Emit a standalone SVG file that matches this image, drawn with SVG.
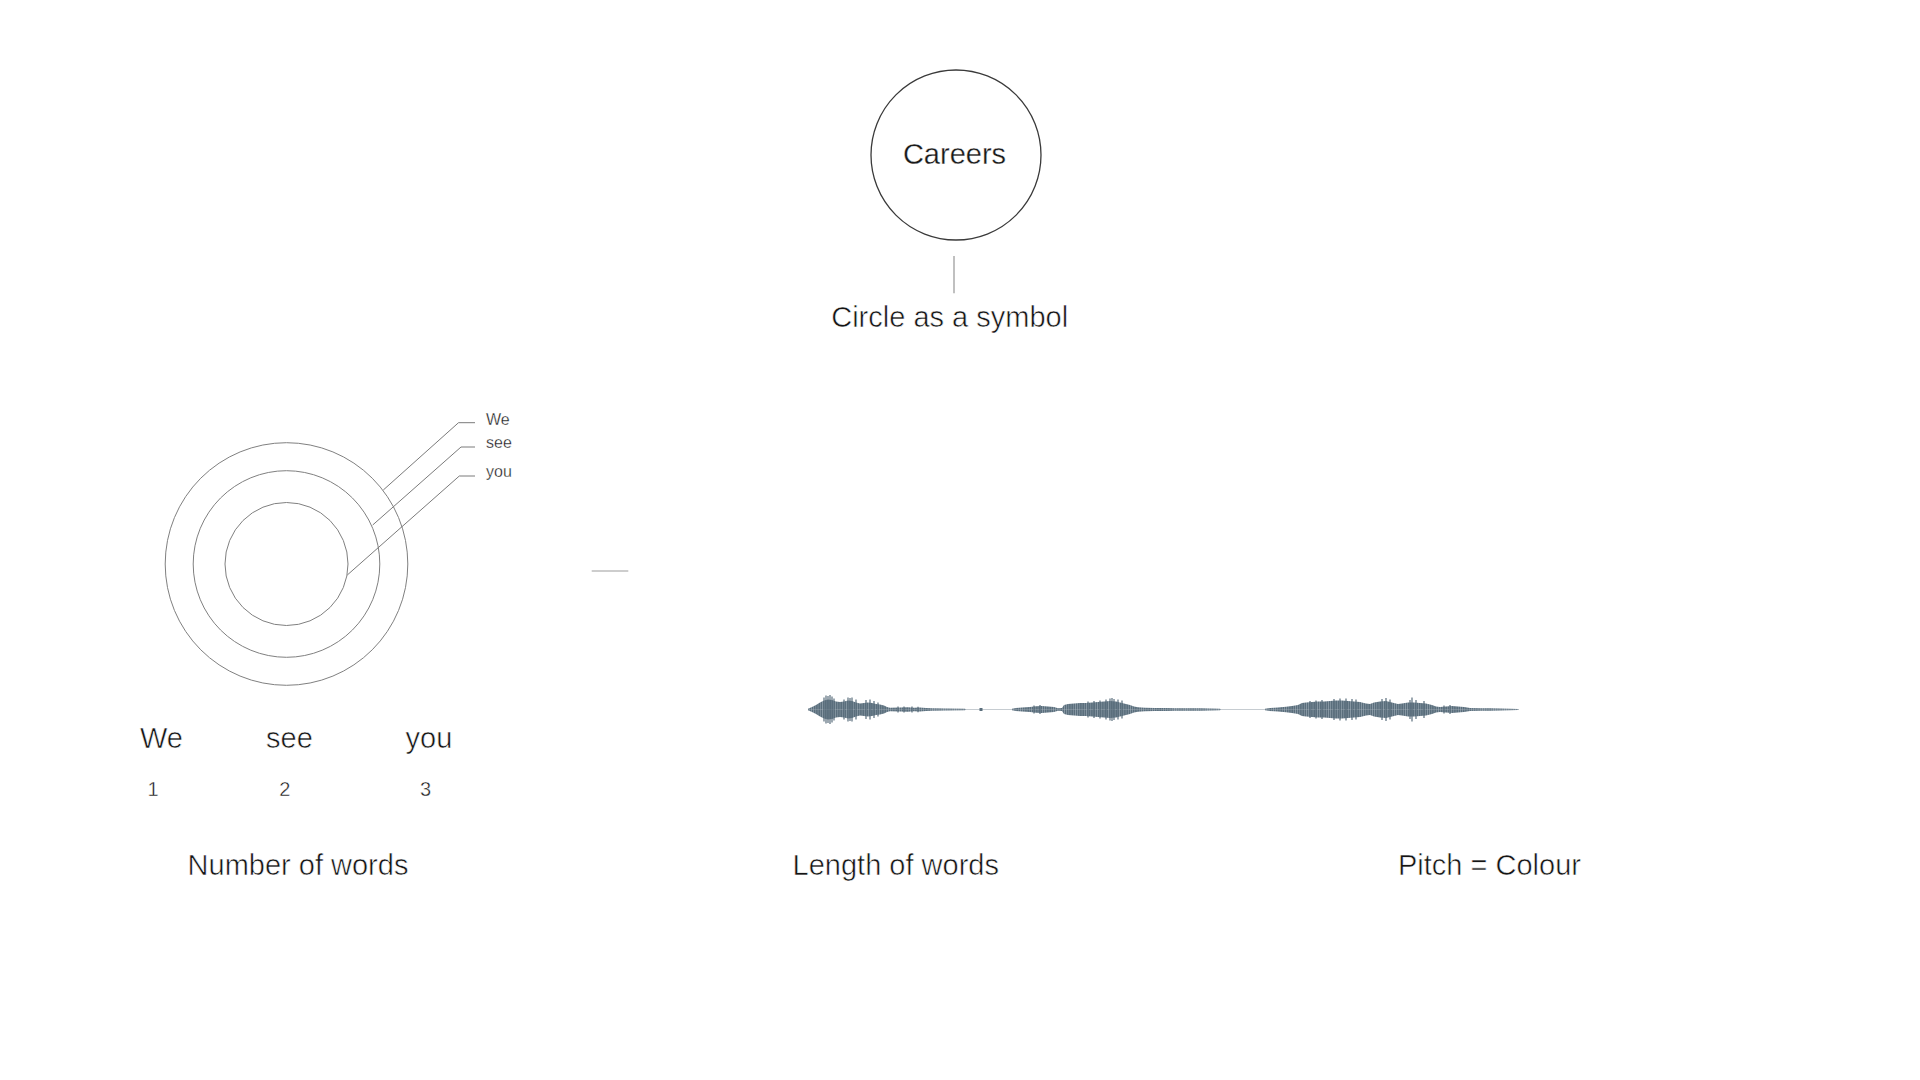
<svg xmlns="http://www.w3.org/2000/svg" xmlns:xlink="http://www.w3.org/1999/xlink" width="1920" height="1080" viewBox="0 0 1920 1080">
  <defs>
    <style>
      .t { font-family: "Liberation Sans", Arial, Helvetica, sans-serif; fill: #141414; stroke: #ffffff; }
      .big { font-size: 29px; stroke-width: 0.55px; }
      .mid { font-size: 20px; stroke-width: 0.4px; }
      .small { font-size: 16px; stroke-width: 0.3px; }
      .ring { fill: none; stroke: #808080; stroke-width: 1; }
      .lead { fill: none; stroke: #7a7a7a; stroke-width: 1; }
      .wave { fill: url(#bars); }
      .spk { fill: none; stroke: #5a6e7c; stroke-width: 1.2; }
    </style>
    <pattern id="bars" x="0" y="0" width="2.2" height="40" patternUnits="userSpaceOnUse">
      <rect x="0" y="0" width="1.5" height="40" fill="#5a6e7c"/>
      <rect x="1.5" y="0" width="0.7" height="40" fill="#8495a1"/>
    </pattern>
  </defs>
  <rect width="1920" height="1080" fill="#ffffff"/>

  <g id="node-careers">
    <circle cx="956" cy="155" r="85" fill="none" stroke="#3a3a3a" stroke-width="1.3"/>
    <text class="t big" x="954.5" y="164.3" text-anchor="middle" style="fill:#1a1a1a;stroke-width:0.3px">Careers</text>
  </g>

  <g id="node-circle-caption">
    <text class="t big" x="949.7" y="327.3" text-anchor="middle">Circle as a symbol</text>
  </g>

  <g id="node-rings">
    <circle class="ring" cx="286.5" cy="564" r="121.3"/>
    <circle class="ring" cx="286.5" cy="564" r="93.3"/>
    <circle class="ring" cx="286.5" cy="564" r="61.5"/>
  </g>

  <g id="node-ring-labels">
    <text class="t small" x="486" y="425">We</text>
    <text class="t small" x="486" y="448">see</text>
    <text class="t small" x="486" y="476.5">you</text>
  </g>

  <g id="node-words">
    <text class="t big" x="140" y="747.7">We</text>
    <text class="t big" x="266" y="747.7">see</text>
    <text class="t big" x="405.5" y="747.7">you</text>
    <text class="t mid" x="153" y="796" text-anchor="middle">1</text>
    <text class="t mid" x="284.7" y="796" text-anchor="middle">2</text>
    <text class="t mid" x="425.5" y="796" text-anchor="middle">3</text>
  </g>

  <g id="node-waveform">
    <line x1="808" y1="709.5" x2="1518" y2="709.5" stroke="#c6ccd1" stroke-width="1"/>
    <polygon id="w1" class="wave" points="808,709.5 808,708.7 812,707 816,705 820,702.5 824,700.5 828,699.5 832,700 836,701.5 840,702 844,701.5 848,700.5 852,701 856,702.5 860,703.5 864,703 868,702.5 872,703 876,704 880,704.5 884,705.5 887,707 890,707.7 900,707.5 908,707.3 914,707.7 920,707.5 926,708 932,708.3 945,708.5 965,708.7 966,709.5"/>
    <polygon id="w2" class="wave" points="1012,709.5 1012,708.7 1016,708 1022,707.5 1030,707 1036,706.3 1042,706 1048,706.5 1054,707 1058,708.3 1062,708 1064,705 1068,704 1074,703.5 1080,703 1086,703 1092,702.5 1098,702 1104,701.5 1110,701 1116,701.5 1120,702.5 1126,704 1130,705 1134,706.5 1138,707.3 1145,707.7 1155,708 1165,708 1175,708.2 1190,708.2 1200,708.3 1210,708.4 1220,708.7 1221,709.5"/>
    <polygon id="w3" class="wave" points="1265,709.5 1265,708.7 1270,708 1278,707.5 1286,706.7 1292,706 1298,705 1302,703 1306,702.5 1312,702 1318,701.5 1324,701.5 1330,701 1336,700.5 1342,700.5 1348,701 1354,701.5 1360,702 1366,703.5 1370,704 1374,702.5 1380,701.5 1386,701 1392,702.5 1398,704 1402,703.5 1408,702.5 1414,702.5 1420,703 1426,703.5 1432,705 1436,706.5 1440,707 1446,706.5 1452,706 1458,706.5 1464,707 1470,708 1480,708.2 1490,708.3 1500,708.5 1510,708.7 1518,709 1519,709.5"/>
    <use xlink:href="#w1" href="#w1" transform="matrix(1 0 0 -1 0 1419)"/>
    <use xlink:href="#w2" href="#w2" transform="matrix(1 0 0 -1 0 1419)"/>
    <use xlink:href="#w3" href="#w3" transform="matrix(1 0 0 -1 0 1419)"/>
    <rect x="979.5" y="708" width="3" height="3" fill="#5a6e7c"/>
    <path class="spk" d="M824 697.5V721.5M826 695.5V723.5M828 696V723M830 695V724M832 696.5V722.5M834 698.5V720.5M844 699.5V719.5M848 697.5V721.5M850 698V721M852 697.5V721.5M856 699.5V719.5M866 700V719M870 699.5V719.5M874 701V718M878 702.5V716.5M898 706.5V712.5M904 706.5V712.5M912 706.5V712.5M918 706.7V712.3M1034 705.5V713.5M1040 705V714M1088 701.5V717.5M1094 701V718M1100 700.5V718.5M1106 699.5V719.5M1110 698.5V720.5M1112 698V721M1114 699V720M1118 699.5V719.5M1122 700.5V718.5M1310 701V718M1316 700.5V718.5M1322 700V719M1334 699V720M1340 698.5V720.5M1346 698.5V720.5M1352 699V720M1356 699.5V719.5M1382 699V720M1386 698V721M1390 699.5V719.5M1410 700V719M1412 697.5V721.5M1416 700V719M1424 701V718M1444 705.5V713.5M1450 705V714"/>
  </g>

  <g id="node-bottom-labels">
    <text class="t big" x="298" y="875" text-anchor="middle">Number of words</text>
    <text class="t big" x="895.8" y="875" text-anchor="middle">Length of words</text>
    <text class="t big" x="1489.5" y="875" text-anchor="middle">Pitch = Colour</text>
  </g>

  <g id="connectors">
    <line x1="954" y1="256" x2="954" y2="293.3" stroke="#ababab" stroke-width="1.5"/>
    <polyline class="lead" points="383.3,490 458.5,422.7 475,422.7"/>
    <polyline class="lead" points="372.7,525 461,447 475,447"/>
    <polyline class="lead" points="347.3,575 459.3,476 475,476"/>
    <line x1="591.7" y1="571" x2="628.3" y2="571" stroke="#bdbdbd" stroke-width="1.5"/>
  </g>
</svg>
